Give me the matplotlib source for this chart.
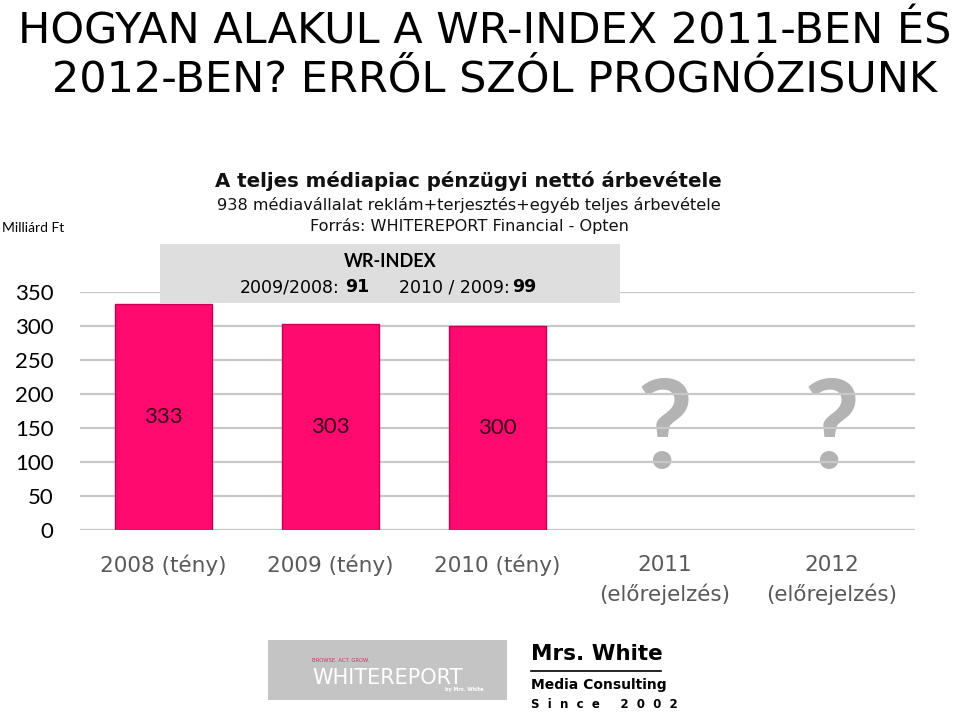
import matplotlib.pyplot as plt
from matplotlib.patches import Rectangle

categories = ['2008 (tény)', '2009 (tény)', '2010 (tény)', '2011\n(előrejelzés)', '2012\n(előrejelzés)']
values = [333, 303, 300]
value_labels = ['333', '303', '300']
forecast_marks = ['?', '?']
y_ticks = [0, 50, 100, 150, 200, 250, 300, 350]

W, H = 960, 713
fig = plt.figure(figsize=(W / 100, H / 100), dpi=100)


def fx(x):
    return x / W


def fy(y):
    return 1 - y / H


GRAY = '#595959'
PINK = '#ff0a6e'

# title
fig.text(fx(18), fy(32), 'HOGYAN ALAKUL A WR-INDEX 2011-BEN ÉS', fontsize=31,
         family='DejaVu Sans', color='black', va='center', ha='left')
fig.text(fx(52), fy(80), '2012-BEN? ERRŐL SZÓL PROGNÓZISUNK', fontsize=31,
         family='DejaVu Sans', color='black', va='center', ha='left')

# chart headings
fig.text(fx(468), fy(181), 'A teljes médiapiac pénzügyi nettó árbevétele', fontsize=14.2,
         family='DejaVu Sans', weight='bold', color='#111111', ha='center', va='center')
fig.text(fx(469), fy(205), '938 médiavállalat reklám+terjesztés+egyéb teljes árbevétele',
         fontsize=11.6, family='DejaVu Sans', color='#111111', ha='center', va='center')
fig.text(fx(469), fy(226), 'Forrás: WHITEREPORT Financial - Opten', fontsize=11.6,
         family='DejaVu Sans', color='#111111', ha='center', va='center')
fig.text(fx(2), fy(228), 'Milliárd Ft', fontsize=10, family='Lato', color='black',
         ha='left', va='center')

ax = fig.add_axes([fx(80), fy(530), fx(915) - fx(80), fy(292) - fy(530)])
ax.set_xlim(-0.5, 4.5)
ax.set_ylim(0, 350)
for t in y_ticks:
    ax.axhline(t, color='#c8c8c8', lw=1.6, zorder=1)
ax.bar(range(len(values)), values, width=0.575, color=PINK, edgecolor='#c8004f',
       lw=1.0, zorder=3)
for i, v in enumerate(values):
    ax.text(i, v / 2, value_labels[i], fontsize=16, family='Lato', color='#3a0018',
            ha='center', va='center', zorder=4)
for j, m in enumerate(forecast_marks):
    ax.text(3 + j, 142, m, fontsize=88, family='Lato', weight='bold', color='#b3b3b3',
            ha='center', va='center', zorder=0)
ax.set_yticks(y_ticks)
ax.set_yticklabels([str(t) for t in y_ticks], fontsize=16, family='Lato', color='black')
ax.tick_params(axis='y', length=0, pad=19)
ax.set_xticks(range(len(categories)))
ax.set_xticklabels([])
ax.tick_params(axis='x', length=0)
for i, c in enumerate(categories):
    ax.text(i, -0.105, c, transform=ax.get_xaxis_transform(), fontsize=15.5,
            family='DejaVu Sans', color=GRAY, linespacing=1.5, ha='center', va='top')
for s in ax.spines.values():
    s.set_visible(False)

# WR-INDEX box
box = Rectangle((fx(160), fy(303)), fx(620) - fx(160), fy(244) - fy(303),
                transform=fig.transFigure, facecolor='#dedede', edgecolor='none',
                zorder=5)
fig.add_artist(box)
fig.text(fx(390), fy(262), 'WR-INDEX', fontsize=13, family='Lato', weight='bold',
         color='black', ha='center', va='center', zorder=6)
fig.text(fx(240), fy(287), '2009/2008:', fontsize=12.5, family='DejaVu Sans',
         color='black', ha='left', va='center', zorder=6)
fig.text(fx(345), fy(287), '91', fontsize=12.5, family='DejaVu Sans', weight='bold',
         color='black', ha='left', va='center', zorder=6)
fig.text(fx(399), fy(287), '2010 / 2009:', fontsize=12.5, family='DejaVu Sans',
         color='black', ha='left', va='center', zorder=6)
fig.text(fx(512), fy(287), '99', fontsize=12.5, family='DejaVu Sans', weight='bold',
         color='black', ha='left', va='center', zorder=6)

# logos
logo = Rectangle((fx(268), fy(700)), fx(507) - fx(268), fy(640) - fy(700),
                 transform=fig.transFigure, facecolor='#c4c4c4', edgecolor='none')
fig.add_artist(logo)
fig.text(fx(312), fy(661), 'BROWSE. ACT. GROW.', fontsize=3.8, color='#d0306a',
         family='DejaVu Sans', ha='left', va='center')
fig.text(fx(312), fy(678), 'WHITEREPORT', fontsize=15, color='white', family='DejaVu Sans',
         ha='left', va='center')
fig.text(fx(445), fy(690), 'by Mrs. White', fontsize=3.5, color='white', weight='bold',
         family='DejaVu Sans', ha='left', va='center')

fig.text(fx(531), fy(654), 'Mrs. White', fontsize=15.5, color='black', weight='bold',
         family='DejaVu Sans', ha='left', va='center')
fig.add_artist(plt.Line2D([fx(531), fx(661)], [fy(671), fy(671)], color='black', lw=1.2,
                          transform=fig.transFigure))
fig.text(fx(531), fy(685), 'Media Consulting', fontsize=10, color='black', weight='bold',
         family='DejaVu Sans', ha='left', va='center')
fig.text(fx(531), fy(705), 'S  i  n  c  e     2  0  0  2', fontsize=8.5, color='black',
         weight='bold', family='DejaVu Sans', ha='left', va='center')

fig.savefig('out.png', dpi=100)
